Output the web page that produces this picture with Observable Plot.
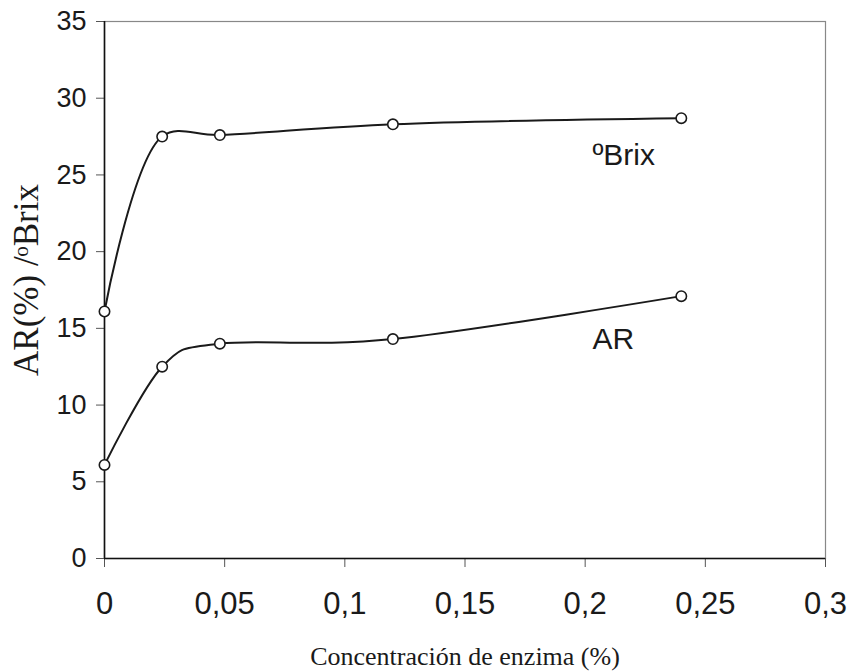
<!DOCTYPE html>
<html>
<head>
<meta charset="utf-8">
<script src="https://cdn.jsdelivr.net/npm/d3@7"></script>
<script src="https://cdn.jsdelivr.net/npm/@observablehq/plot@0.6"></script>
<style>
  html, body { margin: 0; padding: 0; background: #fff; }
</style>
</head>
<body>
<div id="chart"></div>
<script>
// Data
const concentracion = [0, 0.024, 0.048, 0.12, 0.24];
const brix = [16.1, 27.5, 27.6, 28.3, 28.7];
const ar = [6.1, 12.5, 14.0, 14.3, 17.1];
const seriesNames = ["ºBrix", "AR"];
const labelX = [0.203, 0.203];
const labelY = [26.3, 14.3];
const xTicks = [0, 0.05, 0.1, 0.15, 0.2, 0.25, 0.3];
const yTicks = [0, 5, 10, 15, 20, 25, 30, 35];
const xTitle = "Concentración de enzima (%)";
const yTitle = "AR(%) /ᵒBrix";

const brixRows = concentracion.map((x, i) => ({serie: "Brix", x, y: brix[i]}));
const arRows = concentracion.map((x, i) => ({serie: "AR", x, y: ar[i]}));
const rows = [...brixRows, ...arRows];
const labels = seriesNames.map((t, i) => ({t, x: labelX[i], y: labelY[i]}));
const fmt = d => String(d).replace(".", ",");
const sans = "Liberation Sans, Arial, sans-serif";
const serif = "Liberation Serif, Times New Roman, serif";

const chart = Plot.plot({
  width: 849,
  height: 672,
  marginLeft: 104,
  marginRight: 24,
  marginTop: 21,
  marginBottom: 114,
  style: {background: "#fff", color: "#1a1a1a"},
  x: {domain: [0, 0.3], ticks: xTicks, tickFormat: fmt},
  y: {domain: [0, 35], ticks: yTicks},
  marks: [
    Plot.frame({stroke: "#888", strokeWidth: 1.2}),
    Plot.axisX({ticks: xTicks, tickFormat: fmt, tickSize: 9, tickPadding: 24, fontSize: 31, fontFamily: sans, label: null, stroke: "#555"}),
    Plot.axisY({ticks: yTicks, tickSize: 8, tickPadding: 10, fontSize: 27, fontFamily: sans, label: null, stroke: "#555"}),
    Plot.ruleY([0], {stroke: "#111", strokeWidth: 1.6}),
    Plot.ruleX([0], {stroke: "#111", strokeWidth: 1.6}),
    Plot.line(brixRows, {x: "x", y: "y", curve: "catmull-rom", stroke: "#1a1a1a", strokeWidth: 2}),
    Plot.line(arRows, {x: "x", y: "y", curve: "cardinal", tension: 0, stroke: "#1a1a1a", strokeWidth: 2}),
    Plot.dot(rows, {x: "x", y: "y", r: 5.2, fill: "#fff", stroke: "#1a1a1a", strokeWidth: 1.6}),
    Plot.text(labels, {x: "x", y: "y", text: "t", textAnchor: "start", fontSize: 30, fontFamily: sans, fill: "#1a1a1a"}),
    Plot.text([xTitle], {frameAnchor: "bottom", dy: 106, fontSize: 26, fontFamily: serif, fill: "#1a1a1a"}),
    Plot.text([yTitle], {frameAnchor: "left", textAnchor: "middle", dx: -78, dy: -10, rotate: -90, fontSize: 35, fontFamily: serif, fill: "#1a1a1a"})
  ]
});
document.getElementById("chart").appendChild(chart);
</script>
</body>
</html>
